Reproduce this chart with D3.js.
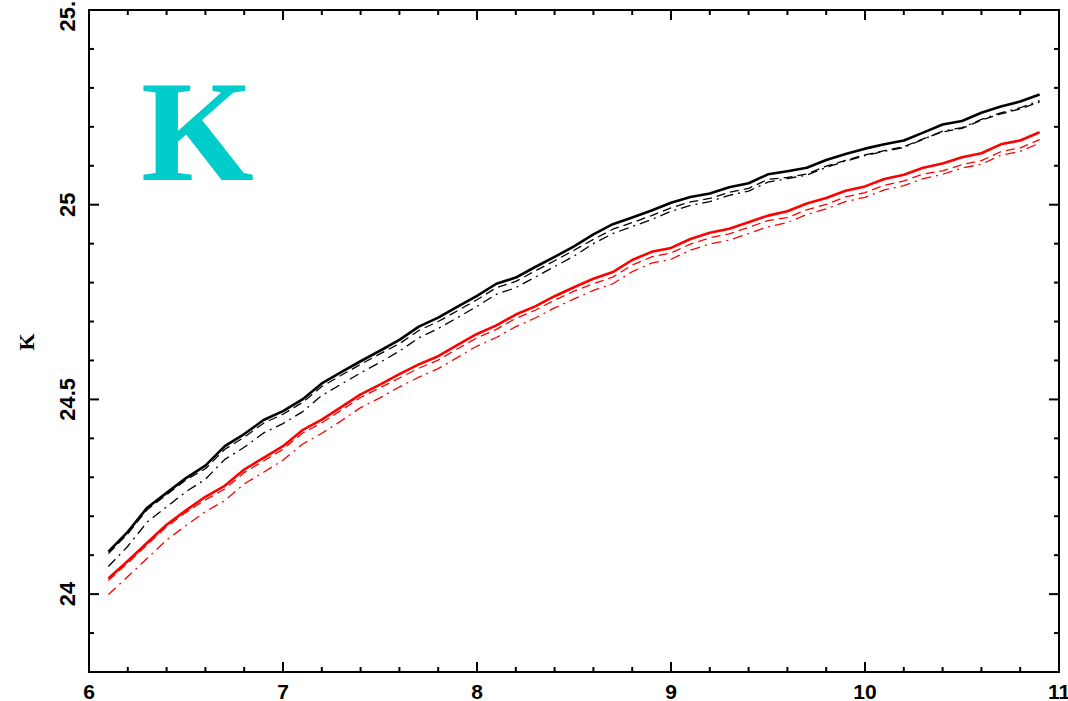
<!DOCTYPE html>
<html>
<head>
<meta charset="utf-8">
<script src="https://d3js.org/d3.v7.min.js"></script>
<style>
  html, body { margin: 0; padding: 0; background: #fff; }
  svg { display: block; }
</style>
</head>
<body>
<svg id="chart" width="1068" height="701"></svg>
<script>
// Sample positions (x) shared by every curve
const xs = [6.1,6.2,6.3,6.4,6.5,6.6,6.7,6.8,6.9,7.0,7.1,7.2,7.3,7.4,7.5,7.6,7.7,7.8,7.9,8.0,
            8.1,8.2,8.3,8.4,8.5,8.6,8.7,8.8,8.9,9.0,9.1,9.2,9.3,9.4,9.5,9.6,9.7,9.8,9.9,10.0,
            10.1,10.2,10.3,10.4,10.5,10.6,10.7,10.8,10.9];

// Black curves
const blackSolid = [24.109,24.160,24.222,24.260,24.298,24.330,24.380,24.411,24.447,24.470,
  24.500,24.541,24.570,24.598,24.625,24.653,24.687,24.710,24.738,24.766,
  24.797,24.813,24.840,24.866,24.893,24.924,24.950,24.967,24.985,25.005,
  25.020,25.029,25.045,25.055,25.078,25.086,25.095,25.115,25.130,25.144,
  25.155,25.165,25.185,25.206,25.215,25.236,25.252,25.265,25.283];
const blackDashed = [24.104,24.155,24.217,24.255,24.293,24.322,24.372,24.403,24.439,24.462,
  24.492,24.533,24.562,24.590,24.617,24.643,24.677,24.700,24.728,24.756,
  24.787,24.803,24.830,24.856,24.883,24.911,24.937,24.954,24.972,24.992,
  25.007,25.016,25.032,25.042,25.065,25.070,25.079,25.099,25.114,25.128,
  25.139,25.149,25.169,25.187,25.196,25.217,25.233,25.246,25.264];
const blackDashDot = [24.071,24.123,24.185,24.224,24.263,24.295,24.346,24.377,24.414,24.438,
  24.468,24.510,24.539,24.568,24.595,24.624,24.658,24.682,24.710,24.739,
  24.770,24.787,24.814,24.841,24.868,24.900,24.926,24.944,24.962,24.983,
  24.998,25.008,25.024,25.035,25.058,25.067,25.076,25.096,25.112,25.126,
  25.137,25.147,25.168,25.189,25.198,25.219,25.236,25.249,25.267];

// Red curves
const redSolid = [24.040,24.085,24.132,24.178,24.215,24.250,24.278,24.320,24.350,24.380,
  24.421,24.448,24.480,24.513,24.538,24.565,24.590,24.611,24.640,24.668,
  24.690,24.718,24.739,24.765,24.788,24.810,24.827,24.858,24.879,24.889,
  24.912,24.928,24.938,24.955,24.972,24.983,25.003,25.017,25.036,25.047,
  25.066,25.077,25.095,25.106,25.122,25.132,25.155,25.165,25.186];
const redDashed = [24.035,24.080,24.127,24.173,24.210,24.242,24.270,24.312,24.342,24.372,
  24.413,24.440,24.472,24.505,24.530,24.555,24.580,24.601,24.630,24.658,
  24.680,24.708,24.729,24.755,24.778,24.797,24.814,24.845,24.866,24.876,
  24.899,24.915,24.925,24.942,24.959,24.967,24.987,25.001,25.020,25.031,
  25.050,25.061,25.079,25.087,25.103,25.113,25.136,25.146,25.167];
const redDashDot = [23.999,24.045,24.092,24.139,24.176,24.212,24.240,24.283,24.313,24.344,
  24.385,24.413,24.445,24.479,24.504,24.532,24.557,24.579,24.608,24.637,
  24.659,24.687,24.709,24.735,24.758,24.780,24.797,24.828,24.850,24.860,
  24.883,24.899,24.909,24.926,24.943,24.954,24.975,24.989,25.008,25.019,
  25.038,25.049,25.067,25.078,25.094,25.104,25.127,25.137,25.158];

// Axis tick labels
const xTickLabels = ["6", "7", "8", "9", "10", "11"];
const yTickLabels = ["24", "24.5", "25", "25.5"];
const yAxisTitle = "K";
const panelTitle = "K";

const svg = d3.select("#chart");
const plot = { left: 89, right: 1059, top: 10, bottom: 672 };

const x = d3.scaleLinear().domain([6, 11]).range([plot.left, plot.right]);
const y = d3.scaleLinear().domain([23.8, 25.5]).range([plot.bottom, plot.top]);

// Curves
const series = [
  { values: blackSolid,   color: "#000", width: 2.6, dash: null },
  { values: blackDashed,  color: "#000", width: 1.3, dash: "9,5" },
  { values: blackDashDot, color: "#000", width: 1.3, dash: "10,5,2,5" },
  { values: redSolid,     color: "#ff0000", width: 2.6, dash: null },
  { values: redDashed,    color: "#ff0000", width: 1.3, dash: "9,5" },
  { values: redDashDot,   color: "#ff0000", width: 1.3, dash: "10,5,2,5" }
];

const line = d3.line()
  .x((d, i) => x(xs[i]))
  .y(d => y(d));

svg.append("g").selectAll("path")
  .data(series)
  .join("path")
  .attr("d", s => line(s.values))
  .attr("fill", "none")
  .attr("stroke", s => s.color)
  .attr("stroke-width", s => s.width)
  .attr("stroke-linejoin", "round")
  .attr("stroke-dasharray", s => s.dash);

// Frame
svg.append("rect")
  .attr("x", plot.left).attr("y", plot.top)
  .attr("width", plot.right - plot.left).attr("height", plot.bottom - plot.top)
  .attr("fill", "none").attr("stroke", "#000").attr("stroke-width", 2);

// Inward ticks on all four sides
const xMajor = d3.range(6, 11.001, 1);
const xMinor = d3.range(6, 11.001, 0.2).filter(v => Math.abs(v - Math.round(v)) > 1e-6);
const yMajor = [24, 24.5, 25, 25.5];
const yMinor = d3.range(23.8, 25.501, 0.1).filter(v => Math.abs(v * 2 - Math.round(v * 2)) > 1e-6);

const ticks = svg.append("g").attr("stroke", "#000").attr("stroke-width", 2);
function xTicks(vals, len) {
  vals.forEach(v => {
    ticks.append("line").attr("x1", x(v)).attr("x2", x(v)).attr("y1", plot.bottom).attr("y2", plot.bottom - len);
    ticks.append("line").attr("x1", x(v)).attr("x2", x(v)).attr("y1", plot.top).attr("y2", plot.top + len);
  });
}
function yTicks(vals, len) {
  vals.forEach(v => {
    ticks.append("line").attr("y1", y(v)).attr("y2", y(v)).attr("x1", plot.left).attr("x2", plot.left + len);
    ticks.append("line").attr("y1", y(v)).attr("y2", y(v)).attr("x1", plot.right).attr("x2", plot.right - len);
  });
}
xTicks(xMajor, 10); xTicks(xMinor, 5);
yTicks(yMajor, 10); yTicks(yMinor, 5);

// X tick labels
svg.append("g").selectAll("text")
  .data(xTickLabels)
  .join("text")
  .attr("x", d => x(+d))
  .attr("y", 691)
  .attr("text-anchor", "middle")
  .attr("dominant-baseline", "central")
  .attr("font-family", "Liberation Sans, Arial, sans-serif")
  .attr("font-weight", "bold")
  .attr("font-size", 21)
  .attr("fill", "#000")
  .text(d => d);

// Y tick labels (rotated)
svg.append("g").selectAll("text")
  .data(yTickLabels)
  .join("text")
  .attr("transform", d => `translate(67,${y(+d)}) rotate(-90)`)
  .attr("text-anchor", "middle")
  .attr("dominant-baseline", "central")
  .attr("font-family", "Liberation Sans, Arial, sans-serif")
  .attr("font-weight", "bold")
  .attr("font-size", 22)
  .attr("fill", "#000")
  .text(d => d);

// Y axis title
svg.append("text")
  .attr("transform", "translate(26,342) rotate(-90)")
  .attr("text-anchor", "middle")
  .attr("dominant-baseline", "central")
  .attr("font-family", "Liberation Serif, Times New Roman, serif")
  .attr("font-weight", "bold")
  .attr("font-size", 22)
  .attr("fill", "#000")
  .text(yAxisTitle);

// Panel letter
svg.append("text")
  .attr("x", 141)
  .attr("y", 180)
  .attr("font-family", "Liberation Serif, Times New Roman, serif")
  .attr("font-weight", "bold")
  .attr("font-size", 145)
  .attr("fill", "#00cccc")
  .text(panelTitle);
</script>
</body>
</html>
